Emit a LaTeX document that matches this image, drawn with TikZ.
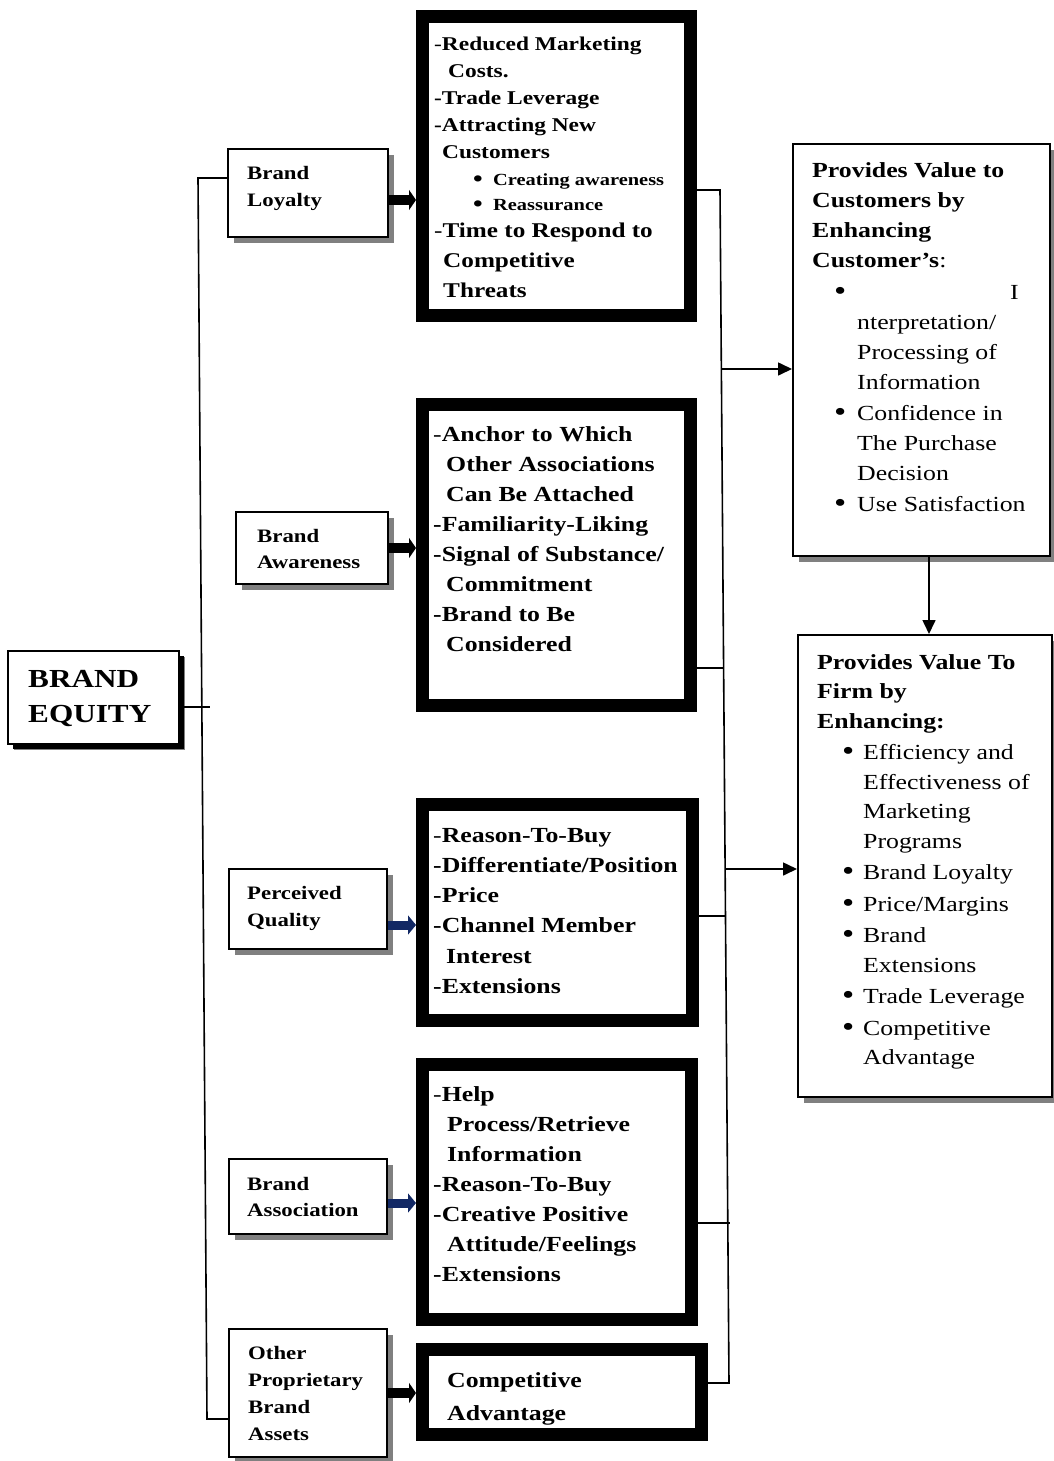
\documentclass[tikz,border=0pt]{standalone}
\usepackage{fontspec}
\setmainfont{Liberation Serif}[FakeStretch=1.2]
\usepackage{tikz}
\usetikzlibrary{arrows.meta,positioning,shadows}
\usepackage{xcolor}
\definecolor{shadowgray}{RGB}{128,128,128}
\definecolor{arrownavy}{RGB}{18,40,100}
\newcommand{\dotmark}{\raisebox{-0.05em}{\scalebox{1.35}{\textbullet}}}

\begin{document}
\begin{tikzpicture}[x=1pt, y=-1pt, every node/.style={inner sep=0pt}]
\tikzset{facet/.style={draw, line width=2pt, outer sep=1pt, fill=white, anchor=north west, drop shadow={shadow xshift=6pt, shadow yshift=-6pt, fill=shadowgray, opacity=1}}}
\tikzset{benefit/.style={draw, line width=13pt, outer sep=6.5pt, anchor=north west}}
\tikzset{lbl/.style={anchor=north west, align=left}}
\tikzset{link/.style={line width=1.6pt}}
\tikzset{flow/.style={line width=1.6pt, -{Triangle[length=14pt, width=13pt]}}}
\tikzset{thickarrow/.style={line width=10pt, -{Triangle[length=7pt, width=20pt]}}}
\tikzset{navyarrow/.style={line width=9pt, draw=arrownavy, -{Triangle[length=8pt, width=19pt]}}}
\useasboundingbox (0,0) rectangle (1053,1461);

% brand equity
\node[facet, minimum width=171pt, minimum height=93pt, drop shadow={shadow xshift=5pt, shadow yshift=-5pt, fill=black, opacity=1}] (equity) at (7,650) {};
\node[lbl, font=\fontsize{26}{35}\selectfont\bfseries] (equitytxt) at (28,670) {BRAND\\EQUITY};

% dimensions
\node[facet, minimum width=160pt, minimum height=88pt] (loy) at (227,148) {};
\node[lbl, font=\fontsize{19}{27}\selectfont\bfseries] (loytxt) at (247,166) {Brand\\Loyalty};
\node[facet, minimum width=152pt, minimum height=72pt] (awa) at (235,511) {};
\node[lbl, font=\fontsize{19}{26}\selectfont\bfseries] (awatxt) at (257,529) {Brand\\Awareness};
\node[facet, minimum width=158pt, minimum height=80pt] (qua) at (228,868) {};
\node[lbl, font=\fontsize{19}{27}\selectfont\bfseries] (quatxt) at (247,886) {Perceived\\Quality};
\node[facet, minimum width=158pt, minimum height=75pt] (ass) at (228,1158) {};
\node[lbl, font=\fontsize{19}{26}\selectfont\bfseries] (asstxt) at (247,1177) {Brand\\Association};
\node[facet, minimum width=158pt, minimum height=128pt] (oth) at (228,1328) {};
\node[lbl, font=\fontsize{19}{27}\selectfont\bfseries] (othtxt) at (248,1346) {Other\\Proprietary\\Brand\\Assets};

% benefit boxes
\node[benefit, minimum width=268pt, minimum height=299pt] (loyben) at (416,10) {};
\node[lbl, font=\fontsize{19.5}{27}\selectfont\bfseries] (loybentxt) at (434,37) {%
{\mdseries-}Reduced Marketing\\
\hspace*{14pt}Costs.\\
-Trade Leverage\\
-Attracting New\\
\hspace*{8pt}Customers\\
\hspace*{39pt}{\fontsize{17}{25}\selectfont\makebox[20pt][l]{\dotmark}Creating awareness}\\[-2pt]
\hspace*{39pt}{\fontsize{17}{25}\selectfont\makebox[20pt][l]{\dotmark}Reassurance}\\
{\fontsize{21}{30}\selectfont{\mdseries-}Time to Respond to}\\[3pt]
\hspace*{9pt}{\fontsize{21}{30}\selectfont Competitive}\\[3pt]
\hspace*{9pt}{\fontsize{21}{30}\selectfont Threats}};
\node[benefit, minimum width=268pt, minimum height=301pt] (awaben) at (416,398) {};
\node[lbl, font=\fontsize{21.5}{30}\selectfont\bfseries] (awabentxt) at (433,426) {%
{\mdseries-}Anchor to Which\\
\hspace*{13pt}Other Associations\\
\hspace*{13pt}Can Be Attached\\
-Familiarity-Liking\\
-Signal of Substance/\\
\hspace*{13pt}Commitment\\
-Brand to Be\\
\hspace*{13pt}Considered};
\node[benefit, minimum width=270pt, minimum height=216pt] (quaben) at (416,798) {};
\node[lbl, font=\fontsize{21.5}{30.2}\selectfont\bfseries] (quabentxt) at (433,828) {%
{\mdseries-}Reason-To-Buy\\
-Differentiate/Position\\
-Price\\
-Channel Member\\
\hspace*{13pt}Interest\\
-Extensions};
\node[benefit, minimum width=269pt, minimum height=255pt] (assben) at (416,1058) {};
\node[lbl, font=\fontsize{21.5}{30}\selectfont\bfseries] (assbentxt) at (433,1086) {%
{\mdseries-}Help\\
\hspace*{14pt}Process/Retrieve\\
\hspace*{14pt}Information\\
-Reason-To-Buy\\
-Creative Positive\\
\hspace*{14pt}Attitude/Feelings\\
-Extensions};
\node[lbl, font=\fontsize{21.5}{33}\selectfont\bfseries] (othbentxt) at (447,1372) {Competitive\\Advantage};
\node[benefit, minimum width=279pt, minimum height=85pt] (othben) at (416,1343) {};

% value boxes
\node[facet, minimum width=257pt, minimum height=412pt] (cust) at (792,143) {};
\node[lbl, font=\fontsize{21.5}{30}\selectfont] (custtxt) at (812,162) {%
\textbf{Provides Value to}\\
\textbf{Customers by}\\
\textbf{Enhancing}\\
\textbf{Customer’s}:\\[2pt]
\hspace*{22pt}\makebox[176pt][l]{\dotmark}I\\
\hspace*{45pt}nterpretation/\\
\hspace*{45pt}Processing of\\
\hspace*{45pt}Information\\[1pt]
\hspace*{22pt}\makebox[23pt][l]{\dotmark}Confidence in\\
\hspace*{45pt}The Purchase\\
\hspace*{45pt}Decision\\[1pt]
\hspace*{22pt}\makebox[23pt][l]{\dotmark}Use Satisfaction};
\node[facet, minimum width=254pt, minimum height=462pt] (firm) at (797,634) {};
\node[lbl, font=\fontsize{21.5}{29.5}\selectfont] (firmtxt) at (817,654) {%
\textbf{Provides Value To}\\
\textbf{Firm by}\\
\textbf{Enhancing:}\\[2pt]
\hspace*{25pt}\makebox[21pt][l]{\dotmark}Efficiency and\\
\hspace*{46pt}Effectiveness of\\
\hspace*{46pt}Marketing\\
\hspace*{46pt}Programs\\[2pt]
\hspace*{25pt}\makebox[21pt][l]{\dotmark}Brand Loyalty\\[2pt]
\hspace*{25pt}\makebox[21pt][l]{\dotmark}Price/Margins\\[2pt]
\hspace*{25pt}\makebox[21pt][l]{\dotmark}Brand\\
\hspace*{46pt}Extensions\\[2pt]
\hspace*{25pt}\makebox[21pt][l]{\dotmark}Trade Leverage\\[2pt]
\hspace*{25pt}\makebox[21pt][l]{\dotmark}Competitive\\
\hspace*{46pt}Advantage};

% junctions
\coordinate (ltop) at (198,178);
\coordinate (lbot) at (207,1419);
\coordinate (ljoin) at (210,707);
\coordinate (rtop) at (720,190);
\coordinate (rbot) at (729,1383);
\coordinate (jcust) at (721.4,369);
\coordinate (jawa) at (723.6,668);
\coordinate (jfirm) at (725.1,869);
\coordinate (jqua) at (725.5,916);
\coordinate (jass) at (730,1223);

\draw[link] (loy.west |- ltop) -- (ltop) -- (lbot) -- (oth.west |- lbot);
\draw[link] (equity.east |- ljoin) -- (ljoin);
\draw[thickarrow] ([yshift=-7pt]loy.east) -- ([yshift=-7pt]loy.east -| loyben.west);
\draw[thickarrow] (awa.east) -- (awa.east -| awaben.west);
\draw[navyarrow] ([yshift=-16pt]qua.east) -- ([yshift=-16pt]qua.east -| quaben.west);
\draw[navyarrow] ([yshift=-6.5pt]ass.east) -- ([yshift=-6.5pt]ass.east -| assben.west);
\draw[thickarrow] (oth.east) -- (oth.east -| othben.west);
\draw[link] (loyben.east |- rtop) -- (rtop) -- (rbot) -- (othben.east |- rbot);
\draw[link] (awaben.east |- jawa) -- (jawa);
\draw[link] (quaben.east |- jqua) -- (jqua);
\draw[link] (assben.east |- jass) -- (jass);
\draw[flow] (jcust) -- (cust.west |- jcust);
\draw[flow] (jfirm) -- (firm.west |- jfirm);
\draw[flow] ([xshift=4pt]firm.north |- cust.south) -- ([xshift=4pt]firm.north);
\end{tikzpicture}
\end{document}
